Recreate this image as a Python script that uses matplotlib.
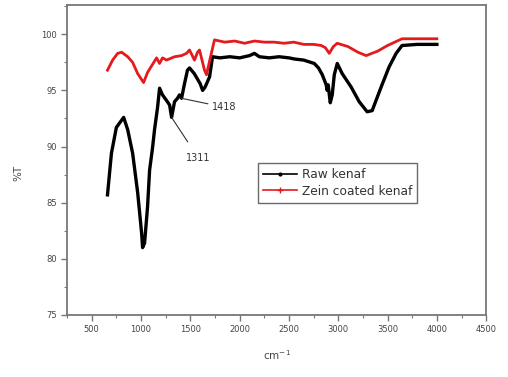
import matplotlib
matplotlib.use("Agg")
import matplotlib.pyplot as plt
from matplotlib.lines import Line2D
from matplotlib.ticker import MultipleLocator

# Raw kenaf spectrum (wavenumber cm^-1, %T)
raw_wn = [660, 700, 750, 824, 865, 915, 966, 1006, 1016, 1036, 1066, 1087, 1117, 1137,
          1168, 1188, 1218, 1259, 1290, 1310, 1340, 1370, 1390, 1411, 1441, 1471, 1492,
          1540, 1600, 1625, 1650, 1695, 1725, 1800, 1900, 2000, 2100, 2150, 2200, 2300,
          2400, 2500, 2555, 2650, 2757, 2800, 2838, 2878, 2888, 2898, 2919, 2939, 2960,
          2990, 3040, 3131, 3212, 3293, 3344, 3435, 3516, 3587, 3647, 3800, 4000]
raw_t = [85.7, 89.4, 91.7, 92.6, 91.5, 89.4, 85.9, 82.3, 81.0, 81.4, 84.6, 87.9, 89.9, 91.5,
         93.5, 95.2, 94.6, 94.1, 93.7, 92.6, 94.0, 94.3, 94.6, 94.3, 95.6, 96.8, 97.0,
         96.5, 95.6, 95.0, 95.3, 96.2, 98.0, 97.9, 98.0, 97.9, 98.1, 98.3, 98.0, 97.9,
         98.0, 97.9, 97.8, 97.7, 97.4, 97.0, 96.4, 95.5, 95.0, 95.5, 93.9, 94.6, 96.4,
         97.4, 96.5, 95.3, 94.0, 93.1, 93.2, 95.3, 97.1, 98.3, 99.0, 99.1, 99.1]

# Zein coated kenaf spectrum
zein_wn = [660, 712, 763, 804, 865, 915, 966, 1026, 1066, 1158, 1188, 1218, 1259, 1340,
           1411, 1461, 1492, 1542, 1573, 1593, 1644, 1664, 1700, 1745, 1850, 1950, 2050,
           2150, 2250, 2350, 2450, 2550, 2650, 2750, 2828, 2870, 2909, 2950, 2990, 3100,
           3200, 3283, 3400, 3500, 3647, 3800, 4000]
zein_t = [96.8, 97.7, 98.3, 98.4, 98.0, 97.5, 96.5, 95.7, 96.6, 97.9, 97.4, 97.9, 97.7, 98.0,
          98.1, 98.3, 98.6, 97.7, 98.4, 98.6, 96.8, 96.4, 97.8, 99.5, 99.3, 99.4, 99.2,
          99.4, 99.3, 99.3, 99.2, 99.3, 99.1, 99.1, 99.0, 98.8, 98.3, 98.9, 99.2, 98.9,
          98.4, 98.1, 98.5, 99.0, 99.6, 99.6, 99.6]

series_labels = ["Raw kenaf", "Zein coated kenaf"]
peak_labels = ["1311", "1418"]
peak_wn = [1310, 1411]
peak_t = [92.6, 94.3]

fig = plt.figure(figsize=(5.08, 3.77), dpi=100)
ax = fig.add_axes([0.132, 0.1645, 0.825, 0.822])

ax.plot(raw_wn, raw_t, color="black", lw=2.4)
ax.plot(zein_wn, zein_t, color="#e41a1c", lw=2.0)

ax.set_xlim(250, 4500)
ax.set_ylim(75, 102.6)
ax.xaxis.set_major_locator(MultipleLocator(500))
ax.xaxis.set_minor_locator(MultipleLocator(250))
ax.yaxis.set_major_locator(MultipleLocator(5))
ax.yaxis.set_minor_locator(MultipleLocator(2.5))
ax.set_xticks(range(500, 4501, 500))
ax.tick_params(which="major", length=4, width=1, color="#777", labelsize=6, labelcolor="#444",
               direction="out")
ax.tick_params(which="minor", length=2, width=0.8, color="#777", direction="out")
for s in ax.spines.values():
    s.set_color("#777")
    s.set_linewidth(1.3)

ax.set_xlabel("cm$^{-1}$", fontsize=7.5, color="#444", labelpad=10)
ax.set_ylabel("%T", fontsize=7.5, color="#444")
ax.yaxis.set_label_coords(-0.105, 0.458)

# annotations
ax.annotate(peak_labels[0], xy=(peak_wn[0], peak_t[0]), xytext=(1580, 89.0),
            fontsize=7, color="#333", ha="center", va="center",
            arrowprops=dict(arrowstyle="-", color="#333", lw=0.8, shrinkB=0, shrinkA=7))
ax.annotate(peak_labels[1], xy=(peak_wn[1], peak_t[1]), xytext=(1720, 93.5),
            fontsize=7, color="#333", ha="left", va="center",
            arrowprops=dict(arrowstyle="-", color="#333", lw=0.8, shrinkB=0, shrinkA=1))

handles = [Line2D([], [], color="black", lw=1.2, marker=".", markersize=4),
           Line2D([], [], color="#e41a1c", lw=1.2, marker="+", markersize=4)]
leg = ax.legend(handles, series_labels, loc="upper left", bbox_to_anchor=(0.456, 0.49),
                fontsize=8.8, frameon=True, fancybox=False, edgecolor="#444",
                handlelength=2.8, handletextpad=0.4, borderpad=0.4, labelspacing=0.3,
                numpoints=1, borderaxespad=0)
leg.get_frame().set_linewidth(1.0)
for t in leg.get_texts():
    t.set_color("#333")

fig.savefig("out.png", dpi=100)
